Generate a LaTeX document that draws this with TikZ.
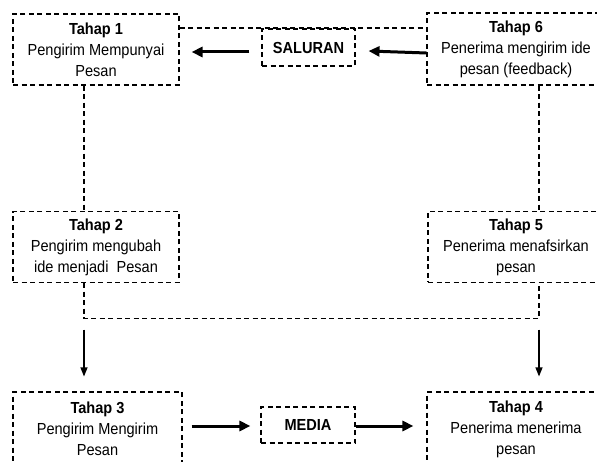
\documentclass[tikz,border=0pt]{standalone}
\usepackage{fontspec}
\setmainfont[FakeStretch=0.91]{Liberation Sans}
\usetikzlibrary{arrows.meta,calc}
\tikzset{
  dashline/.style={line width=1.1pt, dash pattern=on 5pt off 3.5pt},
  stagebox/.style={dashline, draw=black, align=center, inner sep=0pt,
    font=\fontsize{16}{21}\selectfont},
  labelbox/.style={dashline, draw=black, align=center, inner sep=0pt,
    font=\fontsize{16}{21}\selectfont\bfseries},
  bigarrow/.style={line width=3pt, -{Triangle[length=11pt,width=10pt]}},
  thinarrow/.style={line width=1.2pt, -{Triangle[length=9pt,width=7pt]}}
}
\begin{document}
\begin{tikzpicture}[x=1pt,y=-1pt]
\fill[white] (0,0) rectangle (597,462);
\useasboundingbox (0,0) rectangle (597,462);
\clip (0,0) rectangle (597,462);
% stage boxes
\node[stagebox, minimum width=166pt, minimum height=71pt] (b1) at (96,49.5)
  {\textbf{Tahap 1}\\Pengirim Mempunyai\\Pesan};
\node[stagebox, minimum width=166pt, minimum height=71pt] (b2) at (96,247)
  {\textbf{Tahap 2}\\Pengirim mengubah\\ide menjadi\ \ Pesan};
\node[stagebox, minimum width=169pt, minimum height=74pt, text depth=0pt] (b3) at (97.5,429)
  {\textbf{Tahap 3}\\Pengirim Mengirim\\Pesan};
\node[stagebox, minimum width=178pt, minimum height=74pt] (b4) at (516,429)
  {\textbf{Tahap 4}\\Penerima menerima\\pesan};
\node[stagebox, minimum width=176pt, minimum height=71pt] (b5) at (516,247)
  {\textbf{Tahap 5}\\Penerima menafsirkan\\pesan};
\node[stagebox, minimum width=178pt, minimum height=72pt] (b6) at (516,49)
  {\textbf{Tahap 6}\\Penerima mengirim ide\\pesan (feedback)};
% channel boxes
\node[labelbox, minimum width=93pt, minimum height=37pt] (sal) at (308.5,47.5) {SALURAN};
\node[labelbox, minimum width=94pt, minimum height=36pt] (med) at (308,425) {MEDIA};
% dashed feedback lines
\draw[dashline, line width=1.4pt] ($(b1.north east)+(0,14.5)$) -- ($(b6.north west)+(0,15.5)$);
\draw[dashline] ($(b1.south)+(-12,0)$) -- ($(b2.north)+(-12,0)$);
\draw[dashline] ($(b6.south)+(23,0)$) -- ($(b5.north)+(23,0)$);
\draw[dashline] ($(b2.south)+(-12,0)$) |- ($(b5.south)+(23,35.5)$) -- ($(b5.south)+(23,0)$);
% thick arrows
\draw[bigarrow] ($(sal.west)+(-12,4.5)$) -- ($(b1.east)+(12,2.5)$);
\draw[bigarrow] ($(b6.west)+(0,4)$) -- ($(sal.east)+(13,3.5)$);
\draw[bigarrow] ($(b3.east)+(9,-3)$) -- ($(med.west)+(-10,1)$);
\draw[bigarrow] ($(med.east)+(0,1)$) -- ($(b4.west)+(-13,-3)$);
% thin arrows
\draw[thinarrow] ($(b2.south)+(-12,46.5)$) -- ($(b3.north)+(-13.5,-15)$);
\draw[thinarrow] ($(b5.south)+(23,46.5)$) -- ($(b4.north)+(23,-15)$);
\end{tikzpicture}
\end{document}
